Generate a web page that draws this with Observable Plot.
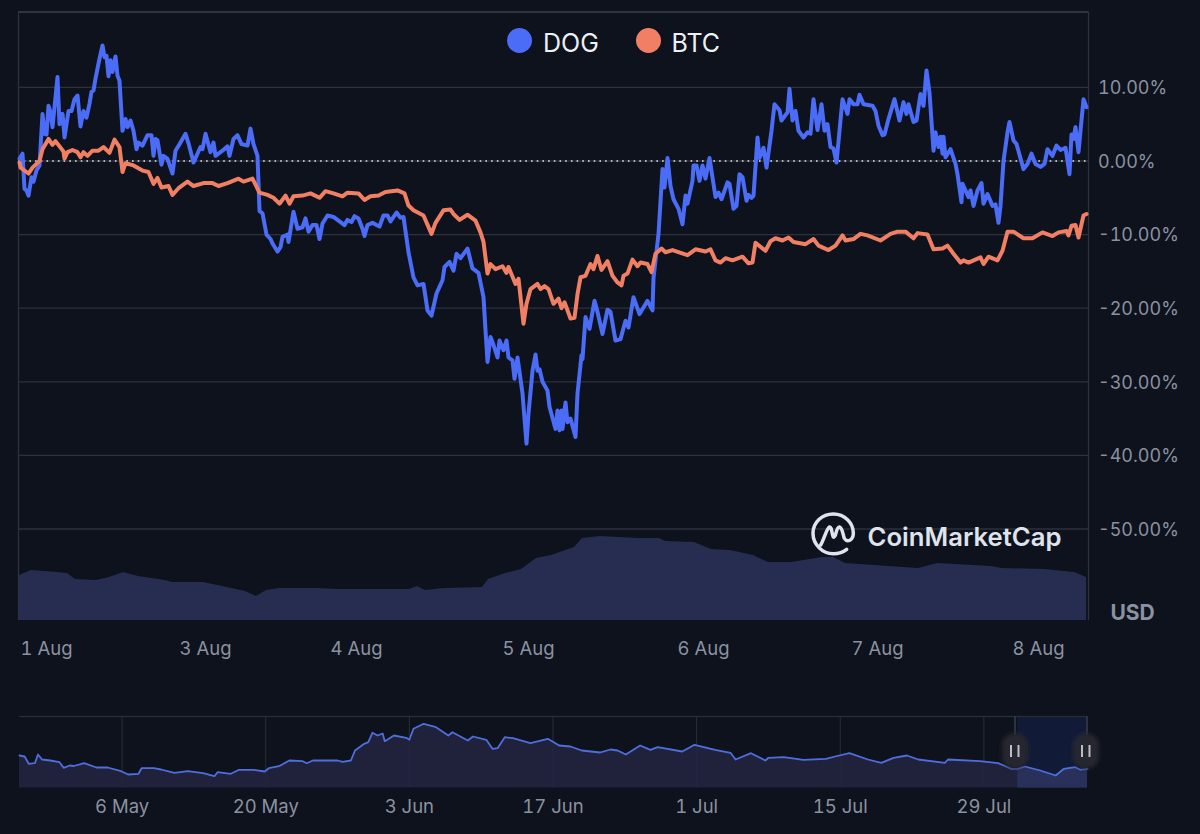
<!DOCTYPE html>
<html><head><meta charset="utf-8">
<script src="https://cdn.jsdelivr.net/npm/d3@7"></script>
<script src="https://cdn.jsdelivr.net/npm/@observablehq/plot@0.6"></script>
<style>
html,body{margin:0;padding:0;background:#0d121d;}
#wrap{position:relative;width:1200px;height:834px;overflow:hidden;font-family:Inter,sans-serif;}
#wrap>div,#wrap>svg{position:absolute;left:0;}
#wrap svg{background:transparent;}
.lg{position:absolute;top:27.5px;font-size:25px;line-height:30px;color:#eef0f4;}
.dot{position:absolute;top:28px;width:25px;height:25px;border-radius:50%;}
</style></head><body><div id="wrap"></div>
<script>
// slot = position along the chart's session axis; value = % change since start
const dogSeries=[[0,0.3],[3,1],[5,-3.8],[7,-4],[9,-4.7],[12,-2.2],[14,-2.8],[17,-1.3],[20,-0.6],[23,6.4],[25,3.7],[27,3.6],[29,7.5],[31,6.6],[33,4.6],[38,11.4],[40,5],[43,6.4],[45,3.2],[49,6.8],[52,6.8],[55,8.4],[58,8.9],[61,4.7],[64,6.8],[67,5.9],[70,7.8],[72,9.4],[74,9.6],[76,11.2],[80,13.9],[83,15.7],[85,14.1],[87,14.3],[89,11.5],[91,13.7],[93,12.1],[96,14.2],[98,11.6],[100,10.9],[103,4.1],[106,5.7],[108,4.6],[111,5.5],[114,4.1],[117,1.6],[119,2.5],[123,2.1],[128,3.5],[132,3.5],[134,0.7],[136,3],[138,2.8],[142,-0.5],[144,0.7],[148,0.3],[153,-1.7],[156,1.4],[161,2.5],[166,3.7],[169,2.4],[174,-0.2],[181,1.9],[183,1.6],[186,3.7],[191,1.2],[194,2.5],[196,0.7],[203,1.4],[208,2],[210,0.7],[214,3],[218,3.5],[222,2.3],[228,2.1],[231,4.4],[234,2.3],[238,0.7],[240,-6.8],[243,-7.1],[247,-10],[251,-10.6],[253,-11.2],[258,-12.3],[261,-11.7],[263,-10.3],[268,-10],[269,-11],[274,-6.9],[278,-9.2],[283,-9],[286,-7.8],[289,-9.6],[293,-8.7],[297,-8.7],[300,-10.6],[303,-8.5],[308,-7.4],[314,-7.6],[319,-8.1],[325,-8.7],[328,-8],[332,-8.3],[335,-7.5],[339,-7.8],[343,-9.2],[345,-10.2],[348,-8.7],[353,-8.4],[357,-8.7],[360,-8.9],[364,-7.4],[368,-7.4],[371,-8.2],[377,-7],[381,-7.7],[384,-7.6],[389,-12.4],[394,-15.8],[398,-16.9],[404,-16.7],[408,-20.3],[412,-21],[417,-18],[420,-17.1],[423,-16.2],[425,-14.4],[430,-13.7],[434,-14.9],[437,-12.6],[441,-13.2],[448,-11.9],[453,-14.6],[459,-15.2],[464,-18.5],[466,-23],[468,-27.3],[471,-23.9],[474,-25],[478,-26.7],[480,-24.4],[484,-25.7],[487,-24.4],[489,-26.7],[493,-27.1],[495,-29.6],[498,-26.7],[503,-31.6],[507,-38.4],[509,-34.3],[513,-28.5],[516,-26.3],[518,-28.5],[520,-28.3],[523,-30],[528,-31.2],[530,-33.4],[536,-36.4],[538,-33.9],[540,-36.6],[542,-33.9],[543,-36.4],[546,-32.8],[548,-35.5],[551,-35],[556,-37.5],[558,-31.6],[562,-26.4],[563,-26.9],[566,-21.2],[570,-22.8],[575,-19],[578,-20.5],[583,-23.5],[588,-20.2],[591,-20.5],[596,-24.4],[601,-24.2],[606,-21.7],[609,-22.6],[614,-18.5],[620,-20.8],[628,-19],[633,-20.3],[634,-15.9],[639,-9.9],[643,-1.1],[645,-3.6],[648,0.4],[651,-3.4],[654,-5.2],[659,-6.5],[663,-8.6],[666,-4.7],[668,-5.8],[673,-2.7],[674,-0.6],[677,-0.6],[680,-2.7],[683,-0.6],[686,-2.4],[690,0.4],[696,-4.9],[699,-4.3],[702,-5.2],[708,-2.9],[710,-3.1],[714,-6.5],[717,-6.1],[720,-1.8],[723,-2.2],[727,-5.4],[729,-4.6],[732,-5],[734,-4.7],[738,3.2],[740,0.4],[744,1.8],[747,-0.9],[752,4.1],[755,7.7],[760,6.9],[762,5.5],[768,6.6],[770,9.8],[773,5.5],[776,6.8],[779,4.1],[784,3.2],[788,3.9],[791,3.7],[794,8.4],[798,4.2],[802,7.7],[805,4.1],[808,5],[811,1.9],[814,1.7],[817,-0.2],[823,8.4],[828,6.4],[830,8.4],[834,7.7],[838,7.7],[840,9],[844,7.7],[853,7.5],[856,6.8],[859,4.8],[863,3.5],[865,3.6],[869,5.7],[875,8.4],[880,5.5],[884,8],[887,6.4],[889,7.7],[894,5.3],[897,5.5],[901,9.1],[904,7.5],[907,12.3],[910,9.3],[914,1.4],[916,3.9],[919,1.9],[921,3.3],[923,1],[924,3.3],[926,0.5],[931,1.6],[936,-0.4],[938,-1.8],[942,-5.6],[943,-3.1],[949,-4.9],[951,-4],[954,-6.1],[958,-4],[962,-3],[964,-5.8],[968,-4.5],[973,-6.1],[976,-5.9],[979,-8.4],[981,-6.1],[984,0],[988,3.9],[990,5.3],[994,2.8],[997,2.3],[1004,-1.1],[1008,-0.4],[1012,1],[1016,-0.4],[1021,-0.8],[1025,-0.4],[1028,1.6],[1033,0.7],[1037,2.1],[1041,1.5],[1046,1.8],[1050,-1.8],[1052,3.6],[1054,3],[1056,4.6],[1059,1.2],[1064,8.4],[1067,7.3]];
const btcSeries=[[0,-0.2],[1,-0.9],[9,-1.7],[13,-0.9],[20,0],[23,1.6],[29,3],[33,2.2],[36,2.7],[44,1.3],[45,0.3],[48,1.2],[53,1.5],[58,1.2],[61,0.5],[64,1.2],[68,0.7],[73,1.4],[79,1.4],[84,1.9],[90,1.1],[95,2.9],[100,1.9],[103,-1.5],[106,-0.3],[114,-0.6],[123,-1.3],[129,-1.5],[134,-3.1],[138,-2.3],[142,-3.6],[149,-3.4],[153,-4.6],[159,-3.7],[168,-2.8],[174,-3.4],[184,-3],[193,-3],[199,-3.4],[208,-3],[219,-2.4],[224,-2.8],[233,-2.4],[240,-4.3],[248,-4.6],[254,-5],[260,-5.8],[266,-4.7],[270,-5.8],[274,-4.8],[283,-4.7],[291,-4.4],[300,-5],[306,-4.1],[314,-4.4],[323,-4.8],[328,-4.3],[339,-4.4],[345,-5.3],[351,-4.8],[359,-4.7],[366,-4.2],[378,-4],[385,-4.4],[389,-6.05],[394,-6.7],[404,-7.4],[412,-9.9],[416,-8.4],[424,-6.7],[431,-6.6],[434,-7.2],[440,-8],[448,-7.3],[456,-8.1],[461,-9.7],[464,-11],[468,-15.3],[471,-14],[476,-14.7],[483,-14.3],[487,-15.2],[489,-14.4],[496,-16.7],[499,-16],[504,-22.1],[507,-19.4],[511,-17.4],[518,-16.7],[521,-17.4],[525,-17],[529,-17.4],[534,-19.4],[539,-18.7],[542,-20],[545,-19.2],[551,-21.4],[555,-21.3],[558,-18.1],[561,-15.8],[566,-15.6],[571,-14],[574,-14.7],[578,-12.9],[582,-14.8],[588,-13.6],[593,-15.6],[598,-16.5],[602,-16.9],[604,-15.6],[608,-15.3],[613,-13.4],[618,-14.3],[621,-13.8],[628,-14],[632,-15.1],[636,-12.6],[642,-11.9],[646,-12.4],[653,-12.1],[668,-12.8],[676,-12],[686,-12.3],[691,-12],[696,-13.5],[701,-13.8],[706,-13.2],[713,-13.5],[723,-13],[729,-13.9],[733,-13.8],[736,-11.1],[746,-12.2],[751,-10.9],[756,-10.5],[763,-10.8],[769,-10.4],[774,-11],[786,-11.3],[794,-10.6],[799,-11.5],[809,-12.1],[816,-11.5],[823,-10.1],[826,-10.8],[834,-10.6],[841,-9.9],[848,-10.1],[861,-10.8],[871,-9.9],[878,-9.6],[886,-9.6],[894,-10.5],[898,-9.8],[908,-10],[914,-12],[923,-11.9],[928,-11.5],[934,-12.6],[941,-13.8],[944,-13.5],[949,-13.8],[961,-13.1],[964,-14],[969,-13],[978,-13.5],[983,-12.2],[988,-9.6],[994,-9.6],[1004,-10.5],[1013,-10.5],[1023,-9.7],[1033,-10.2],[1039,-9.7],[1047,-9.5],[1049,-10.1],[1052,-8.8],[1056,-8.7],[1059,-10.4],[1064,-7.4],[1067,-7.2]];
const volumeSeries=[[0,45],[12,50],[38,48],[48,47],[56,41],[77,40],[90,43],[104,48],[119,44],[146,40],[153,38],[184,38],[203,34],[226,29],[237,24],[247,30],[260,32],[299,32],[318,31],[390,31],[398,34],[406,30],[425,32],[463,33],[469,41],[486,47],[502,51],[517,62],[532,65],[555,73],[563,82],[581,84],[619,82],[640,82],[646,79],[675,78],[692,71],[711,70],[734,65],[749,58],[772,58],[803,63],[814,63],[826,57],[899,52],[918,57],[971,54],[983,52],[1025,51],[1055,48],[1067,43]];
const overviewSeries=[[0,32.5],[0.5,31.5],[0.9,24.2],[1.5,24.8],[1.8,33.5],[2.2,28.5],[3,27.5],[3.9,25.8],[4.3,20.2],[4.9,22.5],[5.3,22],[6.3,24.8],[7.5,20.5],[8.6,20.5],[9.9,16.8],[10.6,13.5],[11.6,14.2],[11.9,19.8],[13.1,19.8],[13.8,18.5],[15.1,15.2],[16.4,16.8],[17.9,14.8],[19,11.8],[19.3,15.8],[20.6,14.2],[21.4,18.2],[22.8,18.2],[23.9,16.5],[24.3,19.8],[25.3,21.8],[26.3,27.5],[27.6,26.8],[28,24.8],[28.6,27.5],[31,27.5],[31.5,26.2],[32.3,27.5],[32.7,37.5],[33.6,44.2],[34,45.8],[34.4,55.2],[34.9,52.5],[35.4,54.5],[35.6,46.8],[36.5,52.5],[37.7,50.2],[38,48.2],[38.4,59.2],[39.4,64.2],[40.6,60.8],[41.8,52.5],[42.2,55.8],[43.7,47.5],[44.2,51.5],[45.5,48.2],[46.1,39.2],[46.6,39.8],[47.3,50.8],[48.1,49.8],[49.8,44.8],[51.5,49.2],[52.6,42.5],[53.7,41.5],[54.8,37.5],[56.6,35.5],[57.6,38.5],[58.3,37.5],[59.1,33.5],[60.5,42.5],[61.5,38.2],[62.2,40.8],[64.6,36.5],[65.8,43.2],[67.8,38.2],[69.3,35.2],[69.8,28.5],[71.3,34.8],[72.7,27.5],[73,30.2],[74.5,30.8],[76.4,28.2],[78.6,29.2],[79.5,31.5],[80.9,34.8],[82.7,28.5],[84,25.2],[85.2,30.2],[86.5,32.5],[87.6,28.5],[90.2,25.2],[90.5,28.5],[93.6,26.8],[95.4,24.8],[96.7,19.2],[97.3,19.2],[98,21.5],[99.5,17.5],[101,12.5],[101.8,19.2],[102.9,20.8],[103.4,18.2],[104.1,19.2]];
const pctTicks=[10,0,-10,-20,-30,-40,-50];
const slotTicks=[27,186,337,509,684,858,1019];
const slotLabels=["1 Aug","3 Aug","4 Aug","5 Aug","6 Aug","7 Aug","8 Aug"];
const overviewTickDays=[10,24,38,52,66,80,94];
const overviewStart=Date.UTC(2024,3,26);
const selectionDays=[97.3,104.1];

const gridColor="#2c313c", axisColor="#8b91a0", dogColor="#4a6cf7", btcColor="#f07f63";
const font={fontFamily:"Inter,sans-serif",fontSize:"18px",background:"transparent",color:axisColor};
const dayDate=d=>new Date(overviewStart+d*864e5);
const wrap=document.getElementById("wrap");
const put=(node,top)=>{node.style.position="absolute";node.style.left="0";node.style.top=top+"px";node.style.maxWidth="none";wrap.appendChild(node);};

const yDomain=[(160.5-620)/7.36,(160.5-11.5)/7.36];
const main=Plot.plot({
  width:1200,height:680,marginLeft:18,marginRight:112,marginTop:11.5,marginBottom:60,
  style:font,
  x:{type:"linear",domain:[-1,1069],axis:null},
  y:{domain:yDomain,axis:null},
  marks:[
    Plot.ruleY(pctTicks,{stroke:gridColor,strokeWidth:1.3}),
    Plot.ruleY([yDomain[1]],{stroke:"#3b404c",strokeWidth:1.5}),
    Plot.ruleX([-1,1069],{stroke:gridColor,strokeWidth:1.3}),
    Plot.ruleY([0],{stroke:"#e4e6ea",strokeWidth:1.4,strokeDasharray:"1.6 4.1"}),
    Plot.axisY({anchor:"right",ticks:pctTicks,tickSize:0,tickPadding:9.5,dy:1,label:null,tickFormat:d=>d.toFixed(2)+"%",fontSize:18}),
    Plot.axisX({anchor:"bottom",ticks:slotTicks,tickSize:0,tickPadding:21,label:null,tickFormat:(d,i)=>slotLabels[i],fontSize:18.5}),
    Plot.line(dogSeries,{x:"0",y:"1",stroke:dogColor,strokeWidth:4,strokeLinejoin:"round"}),
    Plot.line(btcSeries,{x:"0",y:"1",stroke:btcColor,strokeWidth:4,strokeLinejoin:"round"})
  ]
});
put(main,0);

const volume=Plot.plot({
  width:1200,height:100,marginLeft:18,marginRight:112,marginTop:0,marginBottom:0,
  style:font,
  x:{type:"linear",domain:[-1,1069],axis:null},
  y:{domain:[0,100],axis:null},
  marks:[
    Plot.areaY(volumeSeries,{x:"0",y:"1",fill:"#262d50"}),
    Plot.ruleY([0],{stroke:"#2f3550",strokeWidth:1})
  ]
});
put(volume,520);

const overview=Plot.plot({
  width:1200,height:144,marginLeft:19,marginRight:113,marginTop:26,marginBottom:46.5,
  style:font,
  x:{type:"time",domain:[dayDate(0),dayDate(104.1)],axis:null},
  y:{domain:[0,71.5],axis:null},
  marks:[
    Plot.rectY([selectionDays],{x1:d=>dayDate(d[0]),x2:d=>dayDate(d[1]),y1:0,y2:71.5,fill:"#111b38"}),
    Plot.ruleY([71.5],{stroke:"#262b36",strokeWidth:1.5}),
    Plot.ruleX(overviewTickDays.map(dayDate),{stroke:"#2a2e38",strokeWidth:1}),
    Plot.areaY(overviewSeries,{x:d=>dayDate(d[0]),y:"1",fill:"#222540",fillOpacity:.9}),
    Plot.areaY(overviewSeries.filter(d=>d[0]>=selectionDays[0]),{x:d=>dayDate(d[0]),y:"1",fill:"#293059"}),
    Plot.line(overviewSeries,{x:d=>dayDate(d[0]),y:"1",stroke:"#4f6ede",strokeWidth:1.8}),
    Plot.axisX({anchor:"bottom",ticks:overviewTickDays.map(dayDate),tickSize:0,tickPadding:12,label:null,tickFormat:d3.utcFormat("%-d %b"),fontSize:18.5})
  ]
});
put(overview,690);

// legend
[["DOG",dogColor,506.5,543],["BTC",btcColor,635.5,671.5]].forEach(([t,c,dx,tx])=>{
  const dot=document.createElement("div");dot.className="dot";dot.style.left=dx+"px";dot.style.background=c;wrap.appendChild(dot);
  const lab=document.createElement("div");lab.className="lg";lab.style.left=tx+"px";lab.textContent=t;wrap.appendChild(lab);
});
const usd=document.createElement("div");
usd.textContent="USD";
usd.style.cssText="left:1110.5px;top:601px;font-size:21px;line-height:24px;font-weight:700;color:#8b91a0;";
wrap.appendChild(usd);

// brand mark + selection handles
const ns="http://www.w3.org/2000/svg";
const deco=document.createElementNS(ns,"svg");
deco.setAttribute("width",1200);deco.setAttribute("height",834);
deco.style.cssText="position:absolute;left:0;top:0;pointer-events:none;";
deco.innerHTML=`
<defs><filter id="soft" x="-30%" y="-30%" width="160%" height="160%"><feGaussianBlur stdDeviation="2"/></filter></defs>
<g transform="translate(800,505) scale(.3333)" fill="none" stroke="#dfe3ec" stroke-width="10.5" stroke-linecap="round" stroke-linejoin="round">
<path d="M140 133 C128 143 114 146 100 146 C66 146 39 118 39 85 C39 52 66 27 100 27 C134 27 160 54 160 85 C160 106 142 114 133 100 C128 88 128 68 118 66 C108 66 108 100 100 96 C95 88 96 64 88 66 C80 70 72 104 62 120"/>
</g>
<text x="867.5" y="545.5" font-family="Inter,sans-serif" font-size="25.7" font-weight="600" fill="#dfe3ec">CoinMarketCap</text>
<g>
<line x1="1015" x2="1015" y1="716" y2="735" stroke="#3a3e47" stroke-width="1.5"/>
<line x1="1087" x2="1087" y1="716" y2="735" stroke="#3a3e47" stroke-width="1.5"/>
<rect x="1002" y="733" width="26" height="36" rx="13" fill="#27282d" filter="url(#soft)"/>
<rect x="1073" y="733" width="26" height="36" rx="13" fill="#27282d" filter="url(#soft)"/>
<path d="M1011 745v12M1018.5 745v12M1082 745v12M1089.5 745v12" stroke="#b9bdc7" stroke-width="2"/>
</g>`;
wrap.appendChild(deco);
</script></body></html>
